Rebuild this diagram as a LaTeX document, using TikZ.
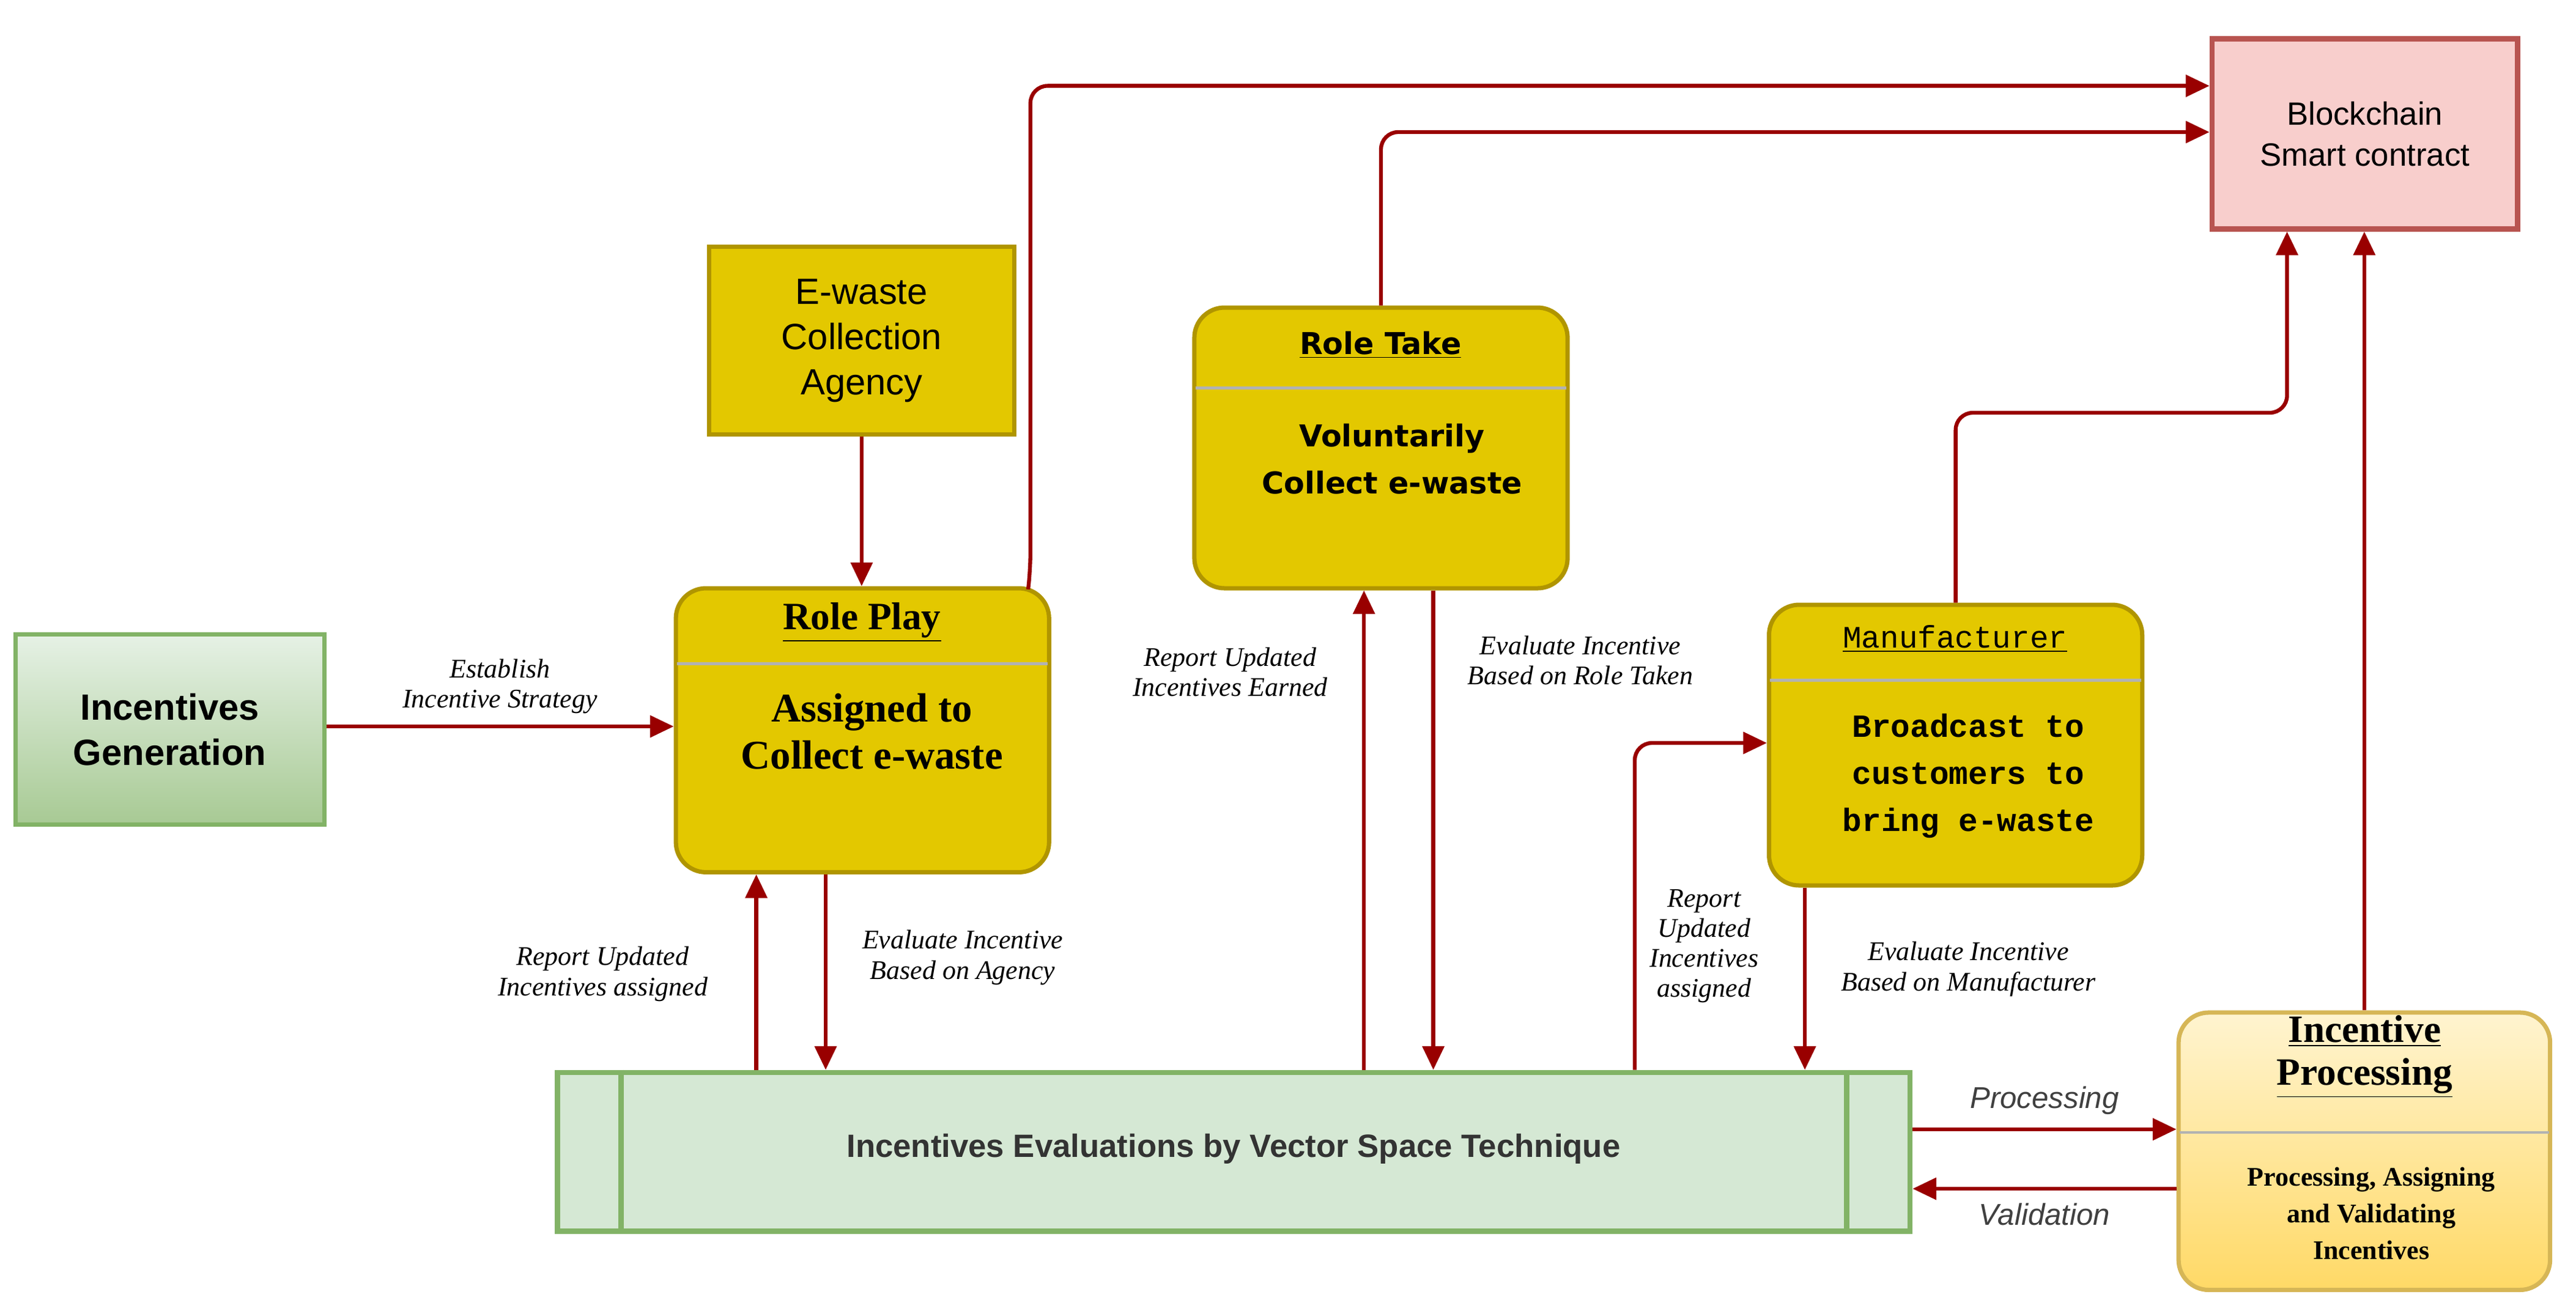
\documentclass[tikz,border=0pt]{standalone}
\usepackage{fontspec}
\setmainfont{Liberation Serif}
\setsansfont{Liberation Sans}
\setmonofont{Liberation Mono}
\newfontfamily\comicf{DejaVu Sans}
\usetikzlibrary{calc,arrows.meta,positioning}
\definecolor{arrowred}{HTML}{990000}
\definecolor{goldfill}{HTML}{E3C800}
\definecolor{goldline}{HTML}{B09500}
\definecolor{greenfill}{HTML}{D5E8D4}
\definecolor{greenline}{HTML}{82B366}
\definecolor{pinkfill}{HTML}{F8CECC}
\definecolor{pinkline}{HTML}{B85450}
\definecolor{yellowtop}{HTML}{FFF4D0}
\definecolor{yellowbot}{HTML}{FFD966}
\definecolor{yellowline}{HTML}{D6B656}
\tikzset{
  flow/.style={-{Triangle[length=11pt,width=10pt]},line width=1.8pt,color=arrowred,rounded corners=8pt},
  goldbox/.style={draw=goldline,fill=goldfill,line width=2pt,anchor=north west,align=center},
  rolebox/.style={goldbox,rounded corners=14pt},
  lbl/.style={font=\fontsize{12.5}{14}\selectfont\itshape,align=center,text=black},
  every node/.style={inner sep=0pt}
}
\begin{document}
\begin{tikzpicture}[x=0.027cm,y=-0.027cm]
  \useasboundingbox (0,0) rectangle (1560,794);
  % boxes
  \node[draw=greenline,line width=2pt,top color=greenfill!60,bottom color=greenline!70,anchor=north west,
        minimum width=187*0.027cm,minimum height=115*0.027cm,align=center,
        font=\sffamily\bfseries\fontsize{17}{21}\selectfont] (gen) at (8,383) {Incentives\\Generation};
  \node[goldbox,minimum width=185*0.027cm,minimum height=114*0.027cm,
        font=\sffamily\fontsize{17}{21}\selectfont] (agency) at (428,148) {E-waste\\Collection\\Agency};
  \node[draw=pinkline,fill=pinkfill,line width=2.5pt,anchor=north west,minimum width=185*0.027cm,
        minimum height=115*0.027cm,align=center,font=\sffamily\fontsize{15}{19}\selectfont] (chain) at (1338,22) {Blockchain\\Smart contract};
  \node[rolebox,minimum width=226*0.027cm,minimum height=172*0.027cm] (rp) at (408,355) {};
  \node[font=\bfseries\fontsize{18}{20}\selectfont] (rptitle) at (522,377) {\underline{Role Play}};
  \draw[gray!60,line width=1.2pt] ($(rp.north west)+(2,47)$) -- ($(rp.north east)+(-2,47)$);
  \node[align=center,font=\bfseries\fontsize{19}{22}\selectfont] (rptext) at (528,443) {Assigned to\\Collect e-waste};
  \node[rolebox,minimum width=226*0.027cm,minimum height=170*0.027cm] (rt) at (722,185) {};
  \node[font=\comicf\bfseries\fontsize{14}{17}\selectfont] (rttitle) at (836,209) {\underline{Role Take}};
  \draw[gray!60,line width=1.2pt] ($(rt.north west)+(2,50)$) -- ($(rt.north east)+(-2,50)$);
  \node[align=center,font=\comicf\bfseries\fontsize{14}{22}\selectfont] (rttext) at (843,278) {Voluntarily\\Collect e-waste};
  \node[rolebox,minimum width=226*0.027cm,minimum height=170*0.027cm] (mf) at (1070,365) {};
  \node[font=\ttfamily\fontsize{14.5}{17}\selectfont] (mftitle) at (1184,387) {\underline{Manufacturer}};
  \draw[gray!60,line width=1.2pt] ($(mf.north west)+(2,47)$) -- ($(mf.north east)+(-2,47)$);
  \node[align=center,font=\ttfamily\bfseries\fontsize{15}{22}\selectfont] (mftext) at (1192,470) {Broadcast to\\customers to\\bring e-waste};
  \node[draw=yellowline,top color=yellowtop,bottom color=yellowbot,line width=2pt,rounded corners=14pt,anchor=north west,
        minimum width=225*0.027cm,minimum height=168*0.027cm] (ip) at (1318,612) {};
  \node[align=center,font=\bfseries\fontsize{18}{20}\selectfont] (iptitle) at (1432,640) {\underline{Incentive}\\\underline{Processing}};
  \draw[gray!60,line width=1.2pt] ($(ip.north west)+(2,74)$) -- ($(ip.north east)+(-2,74)$);
  \node[align=center,font=\bfseries\fontsize{12.5}{17}\selectfont] (iptext) at (1436,735) {Processing, Assigning\\and Validating\\Incentives};
  \node[draw=greenline,fill=greenfill,line width=2.5pt,anchor=north west,minimum width=819*0.027cm,
        minimum height=96*0.027cm] (vs) at (336,648) {};
  \draw[greenline,line width=2.5pt] ($(vs.north west)+(40,0)$) -- ($(vs.south west)+(40,0)$)
        ($(vs.north east)+(-40,0)$) -- ($(vs.south east)+(-40,0)$);
  \node[font=\sffamily\bfseries\fontsize{15}{18}\selectfont,text=black!80] (vstext) at (747,696) {Incentives Evaluations by Vector Space Technique};
  % connectors
  \draw[flow] (gen.east |- 0,440) -- (rp.west |- 0,440) node[lbl,midway,above=5pt] {Establish\\Incentive Strategy};
  \draw[flow] (agency.south) -- (rp.north -| agency.south);
  \draw[flow] ($(rp.north east)+(-14,2)$) -- (624,345) -- (624,52) -- (chain.west |- 0,52);
  \draw[flow] (rt.north) -- (rt.north |- 0,80) -- (chain.west |- 0,80);
  \draw[flow] (mf.north) -- (mf.north |- 0,250) -- (1385,250) -- (chain.south -| 1385,0);
  \draw[flow] (ip.north) -- (chain.south -| ip.north);
  \draw[flow] (vs.north -| 458,0) -- (rp.south -| 458,0);
  \node[lbl] (l1) at (365,590) {Report Updated\\Incentives assigned};
  \draw[flow] (rp.south -| 500,0) -- (vs.north -| 500,0);
  \node[lbl] (l2) at (583,580) {Evaluate Incentive\\Based on Agency};
  \draw[flow] (vs.north -| 826,0) -- (rt.south -| 826,0);
  \node[lbl] (l3) at (745,407) {Report Updated\\Incentives Earned};
  \draw[flow] (rt.south -| 868,0) -- (vs.north -| 868,0);
  \node[lbl] (l4) at (957,400) {Evaluate Incentive\\Based on Role Taken};
  \draw[flow] (vs.north -| 990,0) -- (990,450) -- (mf.west |- 0,450);
  \node[lbl] (l5) at (1032,573) {Report\\Updated\\Incentives\\assigned};
  \draw[flow] (mf.south -| 1093,0) -- (vs.north -| 1093,0);
  \node[lbl] (l6) at (1192,587) {Evaluate Incentive\\Based on Manufacturer};
  \draw[flow] (vs.east |- 0,684) -- (ip.west |- 0,684) node[midway,above=6pt,font=\sffamily\itshape\fontsize{14}{16}\selectfont,text=black!75] {Processing};
  \draw[flow] (ip.west |- 0,720) -- (vs.east |- 0,720) node[midway,below=6pt,font=\sffamily\itshape\fontsize{14}{16}\selectfont,text=black!75] {Validation};
\end{tikzpicture}
\end{document}
